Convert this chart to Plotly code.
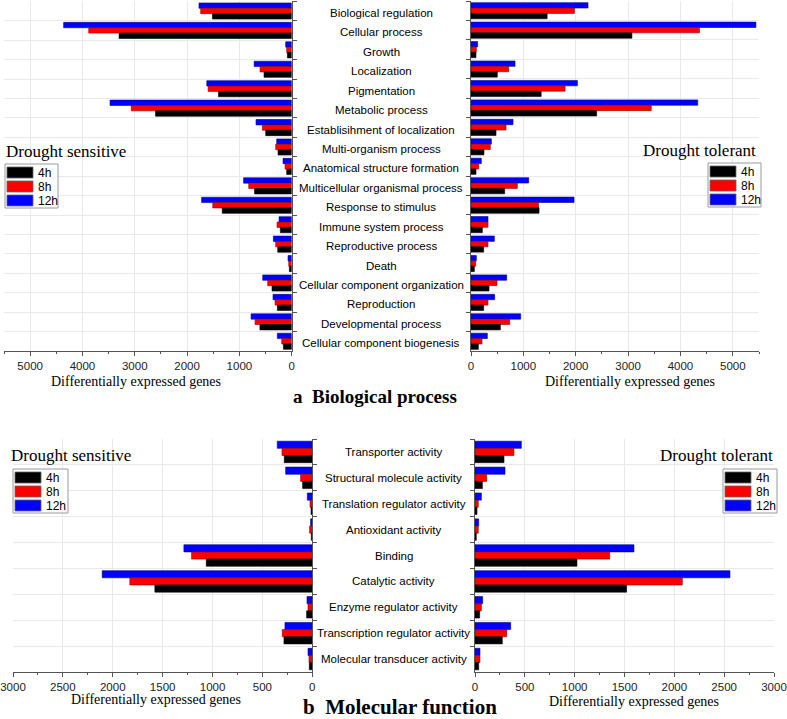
import plotly.graph_objects as go

W, H = 787, 719

bp_categories = ["Biological regulation", "Cellular process", "Growth", "Localization",
                 "Pigmentation", "Metabolic process", "Establisihment of localization",
                 "Multi-organism process", "Anatomical structure formation",
                 "Multicellular organismal process", "Response to stimulus",
                 "Immune system process", "Reproductive process", "Death",
                 "Cellular component organization", "Reproduction",
                 "Developmental process", "Cellular component biogenesis"]

bp_sens_4h = [1515, 3300, 83, 529, 1400, 2603, 497, 261, 96, 710, 1328, 217, 268, 45, 376, 274, 608, 159]
bp_sens_8h = [1740, 3880, 96, 605, 1598, 3067, 561, 306, 127, 821, 1509, 280, 306, 57, 459, 318, 700, 191]
bp_sens_12h = [1772, 4360, 115, 718, 1623, 3473, 682, 287, 166, 920, 1722, 242, 350, 70, 554, 357, 777, 274]

bp_tol_4h = [1454, 3073, 95, 503, 1340, 2400, 478, 248, 96, 643, 1300, 217, 242, 64, 344, 242, 561, 140]
bp_tol_8h = [1975, 4362, 102, 720, 1797, 3442, 669, 369, 147, 885, 1290, 325, 325, 89, 497, 325, 739, 210]
bp_tol_12h = [2235, 5441, 127, 841, 2032, 4330, 803, 389, 197, 1102, 1968, 325, 446, 102, 682, 452, 949, 312]

mf_categories = ["Transporter activity", "Structural molecule activity",
                 "Translation regulator activity", "Antioxidant activity", "Binding",
                 "Catalytic activity", "Enzyme regulator activity",
                 "Transcription regulator activity", "Molecular transducer activity"]

mf_sens_4h = [281, 97, 13, 10, 1063, 1578, 57, 284, 30]
mf_sens_8h = [304, 117, 23, 27, 1210, 1829, 43, 301, 33]
mf_sens_12h = [351, 267, 50, 17, 1287, 2106, 53, 274, 43]

mf_tol_4h = [291, 74, 20, 13, 1023, 1521, 47, 274, 37]
mf_tol_8h = [391, 117, 33, 33, 1351, 2080, 64, 318, 50]
mf_tol_12h = [465, 301, 64, 37, 1595, 2558, 77, 358, 50]

series_names = ["4h", "8h", "12h"]
colors = ["#000000", "#ff0000", "#0000ff"]
edge = ["#000000", "#8a0000", "#00008a"]

fig = go.Figure()

panels = [
    ("x", "y", bp_categories, [bp_sens_4h, bp_sens_8h, bp_sens_12h]),
    ("x2", "y2", bp_categories, [bp_tol_4h, bp_tol_8h, bp_tol_12h]),
    ("x3", "y3", mf_categories, [mf_sens_4h, mf_sens_8h, mf_sens_12h]),
    ("x4", "y4", mf_categories, [mf_tol_4h, mf_tol_8h, mf_tol_12h]),
]
for xa, ya, cats, vals in panels:
    # 12h drawn first so it sits on top of each group (y axis reversed)
    for name, v, c, e in reversed(list(zip(series_names, vals, colors, edge))):
        fig.add_trace(go.Bar(
            x=v, y=cats, orientation="h", name=name, xaxis=xa, yaxis=ya,
            showlegend=False,
            marker=dict(color=c, line=dict(color=e, width=0.6))))

def px_x(p):
    return p / W

def px_y(p):
    return 1 - p / H

grid = "#e9e9e9"
axcol = "#555555"
tickfont = dict(family="Arial, Liberation Sans, sans-serif", size=11.5, color="#222222")

def xax(domain, rng, dtick, minor, anchor):
    return dict(domain=domain, range=rng, dtick=dtick, tick0=0, anchor=anchor,
                automargin=False, fixedrange=True,
                showline=True, linecolor=axcol, linewidth=1, ticks="outside",
                ticklen=4, tickcolor=axcol, tickfont=tickfont, showgrid=True,
                gridcolor=grid, gridwidth=1, zeroline=False,
                minor=dict(dtick=minor, ticks="outside", ticklen=2, tickcolor=axcol,
                           showgrid=False))

def yax(domain, cats, side, anchor):
    return dict(domain=domain, type="category", categoryorder="array",
                categoryarray=cats, autorange="reversed", side=side, anchor=anchor,
                automargin=False, fixedrange=True,
                showline=True, linecolor=axcol, linewidth=1, ticks="outside",
                ticklen=4, tickcolor=axcol, tickson="boundaries",
                showticklabels=False, showgrid=True, gridcolor=grid, gridwidth=1,
                zeroline=False)

top_dom = [px_y(351), px_y(1)]
bot_dom = [px_y(672), px_y(439)]

fig.update_layout(
    width=W, height=H, margin=dict(l=0, r=0, t=0, b=0, autoexpand=False),
    paper_bgcolor="white", plot_bgcolor="white",
    barmode="group", bargap=0.17, bargroupgap=0, hovermode=False,
    xaxis=xax([px_x(4), px_x(291.7)], [5500, 0], 1000, 500, "y"),
    xaxis2=xax([px_x(471), px_x(759)], [0, 5500], 1000, 500, "y2"),
    xaxis3=xax([px_x(13), px_x(312.3)], [3000, 0], 500, 250, "y3"),
    xaxis4=xax([px_x(475), px_x(774)], [0, 3000], 500, 250, "y4"),
    yaxis=yax(top_dom, bp_categories, "right", "x"),
    yaxis2=yax(top_dom, bp_categories, "left", "x2"),
    yaxis3=yax(bot_dom, mf_categories, "right", "x3"),
    yaxis4=yax(bot_dom, mf_categories, "left", "x4"),
    showlegend=False,
)

serif = "Liberation Serif, Times New Roman, serif"
sans = "Arial, Liberation Sans, sans-serif"
label_font = dict(family=sans, size=11.5, color="black")
ann = []
shapes = []
for c in bp_categories:
    ann.append(dict(text=c, x=px_x(381), y=c, xref="paper", yref="y",
                    showarrow=False, font=label_font, xanchor="center", yanchor="middle",
                    yshift=-2))
for c in mf_categories:
    ann.append(dict(text=c, x=px_x(393.5), y=c, xref="paper", yref="y3",
                    showarrow=False, font=label_font, xanchor="center", yanchor="middle"))

def txt(t, x, y, size, xanchor="center", bold=False):
    return dict(text=(f"<b>{t}</b>" if bold else t), x=px_x(x), y=px_y(y),
                xref="paper", yref="paper", showarrow=False,
                font=dict(family=serif, size=size, color="black"),
                xanchor=xanchor, yanchor="middle")

ann += [
    txt("Drought sensitive", 4, 152, 17, "left"),
    txt("Drought tolerant", 758, 150, 17, "right"),
    txt("Drought sensitive", 9, 455, 17, "left"),
    txt("Drought tolerant", 775, 455, 17, "right"),
    txt("Differentially expressed genes", 136, 381, 14),
    txt("Differentially expressed genes", 630, 381, 14),
    txt("Differentially expressed genes", 156, 699, 14),
    txt("Differentially expressed genes", 634, 701, 14),
    txt("a\u00a0\u00a0Biological process", 375, 396, 19, bold=True),
    txt("b\u00a0\u00a0Molecular function", 400, 707, 21, bold=True),
]

# Legend boxes (one per panel), drawn from series_names / colors
def legend_box(x0, y0, w=53, rowh=14):
    h = rowh * 3 + 2
    shapes.append(dict(type="rect", xref="paper", yref="paper",
                       x0=px_x(x0), x1=px_x(x0 + w), y0=px_y(y0 + h), y1=px_y(y0),
                       line=dict(color="#9a9a9a", width=1), fillcolor="white"))
    for i, (name, c, e) in enumerate(zip(series_names, colors, edge)):
        top = y0 + 2 + i * rowh
        shapes.append(dict(type="rect", xref="paper", yref="paper",
                           x0=px_x(x0 + 2), x1=px_x(x0 + 28),
                           y0=px_y(top + rowh - 2), y1=px_y(top + 1),
                           line=dict(color="#666666", width=0.8), fillcolor=c))
        ann.append(dict(text=name, x=px_x(x0 + 31), y=px_y(top + rowh / 2),
                        xref="paper", yref="paper", showarrow=False,
                        font=dict(family=sans, size=12, color="black"),
                        xanchor="left", yanchor="middle"))

legend_box(5, 164)
legend_box(708, 163)
legend_box(13, 469, w=55)
legend_box(723, 469, w=54)

fig.update_layout(annotations=ann, shapes=shapes)

fig.write_html("out.html", config={"displayModeBar": False, "staticPlot": True},
               post_script="document.body.style.margin='0';document.body.style.overflow='hidden';")
